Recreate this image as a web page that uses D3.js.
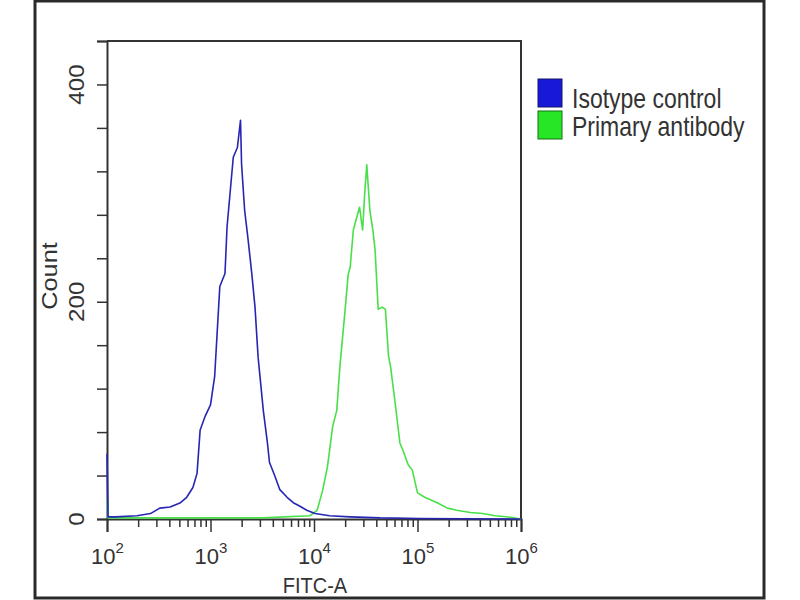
<!DOCTYPE html>
<html>
<head>
<meta charset="utf-8">
<script src="https://cdn.jsdelivr.net/npm/d3@7"></script>
<style>
  body { margin: 0; background: #fff; }
  svg { font-family: "Liberation Sans", Arial, sans-serif; }
</style>
</head>
<body>
<svg id="svg" width="800" height="600"></svg>
<script>
const width = 800;
const height = 600;

const paddings = { left: 107, top: 41, right: 279, bottom: 81 };

// FITC-A as log10 exponent, and event count
const isoLog = [2.00, 2.01, 2.08, 2.29, 2.42, 2.51, 2.61, 2.71, 2.77, 2.83, 2.87, 2.90, 2.95, 3.00, 3.04, 3.07,
  3.09, 3.14, 3.16, 3.19, 3.22, 3.26, 3.29, 3.30, 3.33, 3.36, 3.40, 3.43, 3.46, 3.51, 3.55, 3.57, 3.62, 3.67,
  3.74, 3.80, 3.86, 3.93, 4.01, 4.15, 4.35, 4.64, 5.02, 6.00];
const isoCount = [60, 2, 2, 3, 5, 10, 11, 15, 20, 29, 42, 82, 95, 105, 131, 181,
  214, 226, 269, 301, 333, 342, 367, 327, 284, 260, 225, 195, 149, 100, 70, 52, 40, 27,
  20, 15, 12, 8, 5, 3, 2, 1, 0.5, 0];

const primLog = [2.00, 2.01, 2.50, 3.00, 3.50, 3.96, 4.03, 4.08, 4.13, 4.18, 4.22, 4.25, 4.30, 4.33, 4.35, 4.38,
  4.42, 4.44, 4.47, 4.49, 4.51, 4.54, 4.57, 4.59, 4.62, 4.66, 4.69, 4.72, 4.74, 4.78, 4.83, 4.86, 4.91,
  4.95, 5.00, 5.07, 5.19, 5.29, 5.38, 5.51, 5.63, 5.75, 5.86, 5.94, 6.00];
const primCount = [17, 1, 1, 1, 1, 3, 8, 25, 48, 85, 100, 140, 192, 225, 232, 266,
  280, 287, 266, 300, 326, 284, 265, 248, 193, 195, 193, 150, 140, 110, 70, 63, 50,
  45, 24, 20, 15, 10, 8, 6, 5, 3, 2, 1, 0];

const seriesNames = ['Isotype control', 'Primary antibody'];
const lineColors = ['#2626b4', '#48e048'];
const swatchColors = ['#1818d8', '#26e626'];
const swatchBorders = ['#14146a', '#147014'];

const xMajor = [1e2, 1e3, 1e4, 1e5, 1e6];
const yTicks = [0, 40, 80, 120, 160, 200, 240, 280, 320, 360, 400, 440];
const yLabelled = [0, 200, 400];

const svg = d3.select('#svg');

// outer frame
svg.append('rect')
  .attr('x', 35).attr('y', 1)
  .attr('width', 729).attr('height', 597)
  .attr('fill', 'none')
  .attr('stroke', '#2a2a2a')
  .attr('stroke-width', 3);

const xScale = d3.scaleLog()
  .domain([1e2, 1e6])
  .range([paddings.left, width - paddings.right]);

const yScale = d3.scaleLinear()
  .domain([0, 440])
  .range([height - paddings.bottom, paddings.top]);

const x0 = xScale.range()[0], x1 = xScale.range()[1];
const y0 = yScale.range()[0], y1 = yScale.range()[1];

// minor log ticks
const xMinor = [];
for (let d = 2; d < 6; d++) {
  for (let m = 2; m <= 9; m++) xMinor.push(m * Math.pow(10, d));
}

// top and right border of the plot
svg.append('path')
  .attr('d', `M${x0},${y1}H${x1}V${y0}`)
  .attr('fill', 'none')
  .attr('stroke', '#333')
  .attr('stroke-width', 2);

const xMinorAxis = d3.axisBottom(xScale).tickValues(xMinor).tickSize(8).tickFormat('');
svg.append('g')
  .attr('transform', `translate(0,${y0})`)
  .call(xMinorAxis)
  .call(g => g.select('.domain').remove())
  .call(g => g.selectAll('line').attr('stroke', '#333').attr('stroke-width', 1.5));

const xAxis = d3.axisBottom(xScale).tickValues(xMajor).tickSize(13).tickPadding(8).tickFormat('');
const gx = svg.append('g')
  .attr('transform', `translate(0,${y0})`)
  .call(xAxis);
gx.select('.domain').attr('stroke', '#333').attr('stroke-width', 2);
gx.selectAll('line').attr('stroke', '#333').attr('stroke-width', 1.5);
gx.selectAll('.tick text')
  .attr('font-size', 22)
  .attr('fill', '#333')
  .attr('dy', '1.1em')
  .each(function(d) {
    const t = d3.select(this);
    t.append('tspan').text('10');
    t.append('tspan').attr('font-size', 15).attr('dy', '-0.75em').text(Math.round(Math.log10(d)));
  });

const yAxis = d3.axisLeft(yScale).tickValues(yTicks).tickSize(10).tickFormat('');
const gy = svg.append('g')
  .attr('transform', `translate(${x0},0)`)
  .call(yAxis);
gy.select('.domain').attr('stroke', '#333').attr('stroke-width', 2);
gy.selectAll('line').attr('stroke', '#333').attr('stroke-width', 1.5);

svg.append('g')
  .selectAll('text')
  .data(yLabelled)
  .join('text')
  .attr('transform', d => `translate(84,${yScale(d)}) rotate(-90) scale(1.1,1)`)
  .attr('text-anchor', 'middle')
  .attr('font-size', 22)
  .attr('fill', '#333')
  .text(d => d);

// axis titles
svg.append('text')
  .attr('transform', 'translate(57,276) rotate(-90) scale(1.15,1)')
  .attr('text-anchor', 'middle')
  .attr('font-size', 22)
  .attr('fill', '#333')
  .text('Count');

svg.append('text')
  .attr('transform', 'translate(315,593) scale(1,1.1)')
  .attr('text-anchor', 'middle')
  .attr('font-size', 20)
  .attr('fill', '#333')
  .text('FITC-A');

// histograms
const line = d3.line()
  .x(d => xScale(Math.pow(10, d[0])))
  .y(d => yScale(d[1]));

const series = [
  { color: lineColors[1], points: d3.zip(primLog, primCount) },
  { color: lineColors[0], points: d3.zip(isoLog, isoCount) }
];

svg.append('g')
  .selectAll('path')
  .data(series)
  .join('path')
  .attr('d', d => line(d.points))
  .attr('fill', 'none')
  .attr('stroke', d => d.color)
  .attr('stroke-width', 1.6)
  .attr('stroke-linejoin', 'round');

// legend
const legend = svg.append('g').attr('transform', 'translate(538,79)');
legend.selectAll('rect')
  .data(seriesNames)
  .join('rect')
  .attr('x', 0)
  .attr('y', (d, i) => i * 32)
  .attr('width', 24)
  .attr('height', 28)
  .attr('fill', (d, i) => swatchColors[i])
  .attr('stroke', (d, i) => swatchBorders[i])
  .attr('stroke-width', 1);

legend.selectAll('text')
  .data(seriesNames)
  .join('text')
  .attr('transform', (d, i) => `translate(34,${29 + i * 28}) scale(1,1.2)`)
  .attr('font-size', 23)
  .attr('fill', '#333')
  .text(d => d);
</script>
</body>
</html>
